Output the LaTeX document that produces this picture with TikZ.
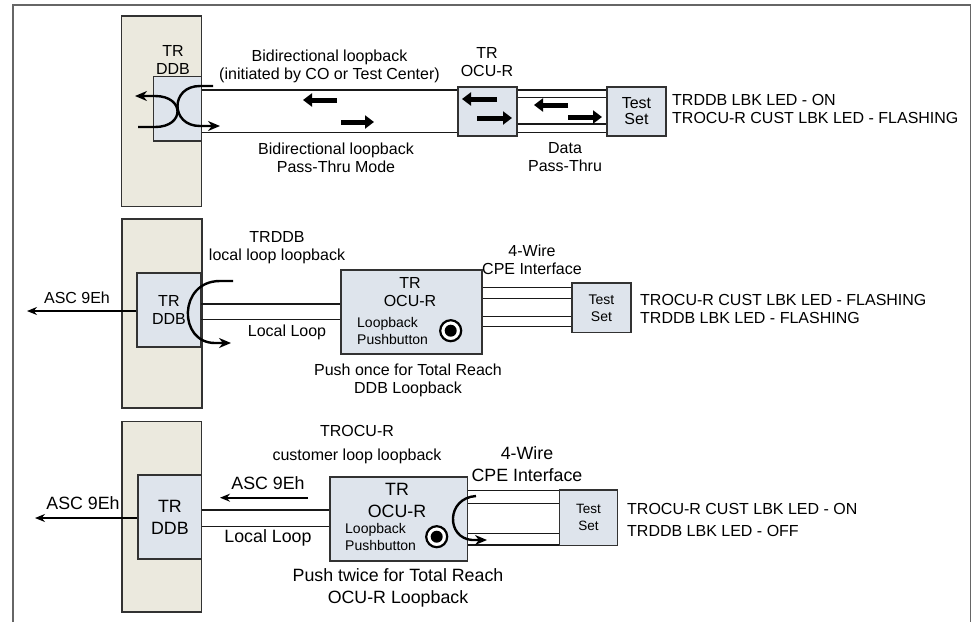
\documentclass[tikz,border=0pt]{standalone}
\usepackage{fontspec}
\setmainfont{Liberation Sans}
\usetikzlibrary{arrows.meta,calc,positioning}

\definecolor{rackfill}{RGB}{235,233,222}
\definecolor{unitfill}{RGB}{222,228,236}
\definecolor{edge}{RGB}{50,50,50}

\begin{document}
\begin{tikzpicture}[
  x=1pt, y=-1pt,
  >=Stealth,
  rack/.style={draw=edge, line width=1.2pt, fill=rackfill, inner sep=0pt},
  unit/.style={draw=edge, line width=1.2pt, fill=unitfill, inner sep=0pt, align=center},
  txt/.style={inner sep=0pt, align=center, font=\fontsize{16}{18}\selectfont},
  bigtxt/.style={txt, font=\fontsize{17.8}{22}\selectfont},
  smalltxt/.style={txt, font=\fontsize{14}{16.5}\selectfont},
  led/.style={txt, align=left, anchor=west},
  wire/.style={draw=black!90, line width=1.2pt},
  sig/.style={->, line width=1.2pt, >={Stealth[length=10pt,width=8pt]}},
  loopback/.style={->, line width=2.4pt, >={Stealth[length=12pt,width=10pt]}},
  fat/.style={-{Triangle[length=9pt,width=13pt]}, line width=5pt},
  button/.style={circle, draw=black, line width=2.2pt, fill=white, minimum size=21pt, inner sep=0pt,
    path picture={\fill[black] (path picture bounding box.center) circle (6pt);}},
  frame/.style={draw=black!60, line width=1.5pt}
]
  \useasboundingbox (0,0) rectangle (972,622);
  \draw[frame] (13,622) -- (13,5) -- (970.5,5) -- (970.5,622);

  % bidirectional loopback
  \node[rack, minimum width=80pt, minimum height=190.7pt] (rackA) at (161.7,111.4) {};
  \node[unit, minimum width=48.4pt, minimum height=64.3pt] (ddbA) at (177.5,108.9) {};
  \node[txt] (ddbAlbl) at (173,60) {TR\\DDB};
  \node[unit, minimum width=59pt, minimum height=49pt] (ocuA) at (487.5,111.5) {};
  \node[txt] (ocuAlbl) at (487,62) {TR\\OCU-R};
  \node[unit, minimum width=59pt, minimum height=49pt, font=\fontsize{16}{16}\selectfont] (testA) at (636.5,111.5) {Test\\Set};

  \draw[wire] (ddbA.east |- 0,90) -- (ocuA.west |- 0,90);
  \draw[wire] (ddbA.east |- 0,132.3) -- (ocuA.west |- 0,132.3);
  \draw[wire] (ocuA.east |- 0,90) -- (testA.west |- 0,90);
  \draw[wire] (ocuA.east |- 0,97.7) -- (testA.west |- 0,97.7);
  \draw[wire] (ocuA.east |- 0,124) -- (testA.west |- 0,124);
  \draw[wire] (ocuA.east |- 0,132.3) -- (testA.west |- 0,132.3);

  \draw[loopback] (138,127) -- (155,127) .. controls (185,127) and (185,96) .. (155,96) -- (135,96);
  \draw[loopback] (213,86) -- (200,86) .. controls (170,86) and (170,126) .. (200,126) -- (220,126);

  \draw[fat] (337,100) -- (303,100);
  \draw[fat] (341,122) -- (374,122);
  \draw[fat] (497,99) -- (462,99);
  \draw[fat] (477,118) -- (512,118);
  \draw[fat] (568,105) -- (534,105);
  \draw[fat] (568,117) -- (602,117);

  \node[txt] (bidirTop) at (329.5,66) {Bidirectional loopback\\(initiated by CO or Test Center)};
  \node[txt] (bidirBot) at (336,157.5) {Bidirectional loopback\\Pass-Thru Mode};
  \node[txt] (dataA) at (565,157.5) {Data\\Pass-Thru};
  \node[led] (ledA) at (672,109) {TRDDB LBK LED - ON\\TROCU-R CUST LBK LED - FLASHING};

  % local loop loopback
  \node[rack, minimum width=80pt, minimum height=189pt] (rackB) at (162,313.5) {};
  \node[unit, minimum width=63.7pt, minimum height=74pt, font=\fontsize{16}{18}\selectfont] (ddbB) at (168.9,310) {TR\\DDB};
  \node[unit, minimum width=141pt, minimum height=84pt] (ocuB) at (411.5,312) {};
  \node[txt] (ocuBlbl) at (410,292.5) {TR\\OCU-R};
  \node[smalltxt, align=left, anchor=west] (pushB) at (357,331) {Loopback\\Pushbutton};
  \node[button] (btnB) at (450.7,330.7) {};
  \node[unit, minimum width=59pt, minimum height=49.7pt, font=\fontsize{14}{17}\selectfont] (testB) at (601.5,307.9) {Test\\Set};

  \coordinate (ascB) at (27,311);
  \draw[sig] (ddbB.west |- ascB) -- (ascB);
  \node[txt] (ascBlbl) at (77,298) {ASC 9Eh};

  \draw[wire] (ddbB.east |- 0,304) -- (ocuB.west |- 0,304);
  \draw[wire] (ddbB.east |- 0,319.3) -- (ocuB.west |- 0,319.3);
  \draw[wire] (ocuB.east |- 0,287.7) -- (testB.west |- 0,287.7);
  \draw[wire] (ocuB.east |- 0,298.3) -- (testB.west |- 0,298.3);
  \draw[wire] (ocuB.east |- 0,316.7) -- (testB.west |- 0,316.7);
  \draw[wire] (ocuB.east |- 0,326.7) -- (testB.west |- 0,326.7);

  \draw[loopback] (233,281) -- (220,281) .. controls (178,281) and (178,343) .. (215,343) -- (231,343);

  \node[txt] (ddbBnote) at (277,247.5) {TRDDB\\local loop loopback};
  \node[txt] (localB) at (287,332) {Local Loop};
  \node[txt] (cpeB) at (532,260) {4-Wire\\CPE Interface};
  \node[txt] (onceB) at (408,380) {Push once for Total Reach\\DDB Loopback};
  \node[led] (ledB) at (640,309) {TROCU-R CUST LBK LED - FLASHING\\TRDDB LBK LED - FLASHING};

  % customer loop loopback
  \node[rack, minimum width=79.7pt, minimum height=190.3pt] (rackC) at (161.9,516.9) {};
  \node[unit, minimum width=63.7pt, minimum height=84pt, font=\fontsize{17.8}{22}\selectfont] (ddbC) at (169.9,517) {TR\\DDB};
  \node[unit, minimum width=137.7pt, minimum height=84pt] (ocuC) at (398.9,519) {};
  \node[bigtxt] (ocuClbl) at (397,500) {TR\\OCU-R};
  \node[smalltxt, font=\fontsize{14}{17}\selectfont, align=left, anchor=west] (pushC) at (345,536.5) {Loopback\\Pushbutton};
  \node[button] (btnC) at (436.7,536.7) {};
  \node[unit, minimum width=58.4pt, minimum height=55.7pt, font=\fontsize{13.5}{17}\selectfont] (testC) at (588.5,517.9) {Test\\Set};

  \coordinate (ascC) at (35,518);
  \draw[sig] (ddbC.west |- ascC) -- (ascC);
  \node[bigtxt] (ascClbl) at (83,503) {ASC 9Eh};
  \coordinate (ascInS) at (308,497.7);
  \coordinate (ascInE) at (220,497.7);
  \draw[sig, line width=2pt] (ascInS) -- (ascInE);
  \node[bigtxt] (ascInlbl) at (268,483) {ASC 9Eh};

  \draw[wire] (ddbC.east |- 0,510) -- (ocuC.west |- 0,510);
  \draw[wire] (ddbC.east |- 0,526.7) -- (ocuC.west |- 0,526.7);
  \draw[wire] (ocuC.east |- 0,490.7) -- (testC.west |- 0,490.7);
  \draw[wire] (ocuC.east |- 0,503.3) -- (testC.west |- 0,503.3);
  \draw[wire] (ocuC.east |- 0,533.3) -- (testC.west |- 0,533.3);
  \draw[wire] (ocuC.east |- 0,545) -- (testC.west |- 0,545);

  \draw[loopback] (476,496) .. controls (446,498) and (446,538) .. (472,540) -- (487,540);

  \node[txt, font=\fontsize{16}{24}\selectfont] (ocuCnote) at (357,445) {TROCU-R\\customer loop loopback};
  \node[bigtxt] (localC) at (268,537.7) {Local Loop};
  \node[bigtxt] (cpeC) at (527,464) {4-Wire\\CPE Interface};
  \node[bigtxt] (twiceC) at (398,588) {Push twice for Total Reach\\OCU-R Loopback};
  \node[led, font=\fontsize{16}{22}\selectfont] (ledC) at (627,520) {TROCU-R CUST LBK LED - ON\\TRDDB LBK LED - OFF};
\end{tikzpicture}
\end{document}
